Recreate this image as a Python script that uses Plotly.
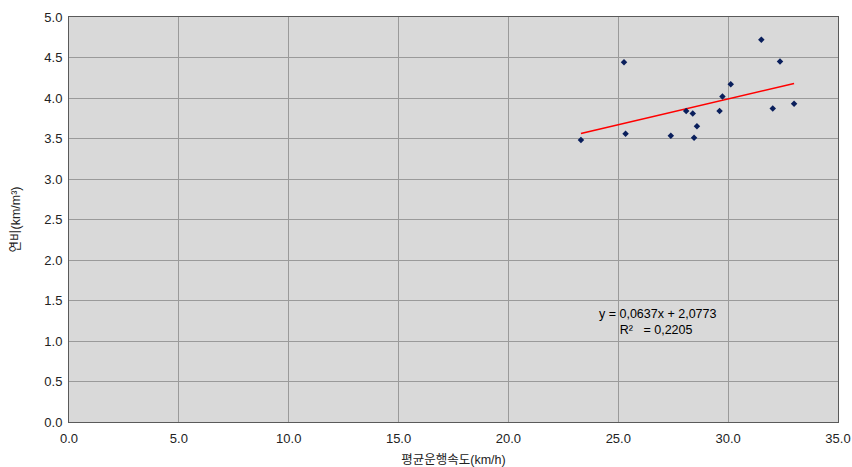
import plotly.graph_objects as go

# data
speed = [23.30, 25.26, 25.33, 27.39, 28.09, 28.39, 28.58, 28.45, 29.61, 29.74, 30.12, 31.51, 32.36, 32.03, 33.00]
efficiency = [3.48, 4.44, 3.56, 3.535, 3.84, 3.81, 3.65, 3.51, 3.84, 4.02, 4.17, 4.72, 4.45, 3.87, 3.93]

slope = 0.0637
intercept = 2.0773
r2 = 0.2205

x_ticks = [0, 5, 10, 15, 20, 25, 30, 35]
y_ticks = [0, 0.5, 1, 1.5, 2, 2.5, 3, 3.5, 4, 4.5, 5]

trend_x = [min(speed), max(speed)]
trend_y = [slope * v + intercept for v in trend_x]

font_family = "Liberation Sans, Noto Sans CJK KR, Arial, sans-serif"

fig = go.Figure()
fig.add_trace(go.Scatter(
    x=trend_x, y=trend_y, mode="lines",
    line=dict(color="#ff0000", width=1.6),
    showlegend=False, hoverinfo="skip",
))
fig.add_trace(go.Scatter(
    x=speed, y=efficiency, mode="markers",
    marker=dict(symbol="diamond", size=5, color="#0a1f5c"),
    showlegend=False,
))

fig.add_annotation(
    xref="x", yref="y", x=24.05, y=1.03,
    text=f"y = {str(slope).replace('.', ',')}x + {str(intercept).replace('.', ',')}<br>      R²   = {str(r2).replace('.', ',')}",
    showarrow=False, xanchor="left", yanchor="bottom",
    align="left",
    font=dict(family=font_family, size=12.5, color="#000000"),
)

axis_common = dict(
    showgrid=True, gridcolor="#9a9a9a", gridwidth=1,
    showline=True, linecolor="#5a5a5a", linewidth=1, mirror=True,
    zeroline=False, ticks="", tickformat=".1f", automargin=False,
    tickfont=dict(family=font_family, size=13, color="#222222"),
)

fig.update_xaxes(
    range=[0, 35], tickvals=x_ticks, ticklabelstandoff=4,
    title=dict(text="평균운행속도(km/h)", font=dict(family=font_family, size=12.5, color="#222222"), standoff=12),
    **axis_common,
)
fig.update_yaxes(
    range=[0, 5], tickvals=y_ticks, ticklabelstandoff=3,
    title=dict(text="연비(km/m³)", font=dict(family=font_family, size=12.5, color="#222222"), standoff=20),
    **axis_common,
)

fig.update_layout(
    width=852, height=467,
    margin=dict(l=69, r=14, t=17, b=45),
    paper_bgcolor="#ffffff",
    plot_bgcolor="#d9d9d9",
    font=dict(family=font_family),
)

fig.write_html(
    "out.html",
    config={"displayModeBar": False},
    post_script="document.body.style.margin='0';document.body.style.overflow='hidden';",
)
